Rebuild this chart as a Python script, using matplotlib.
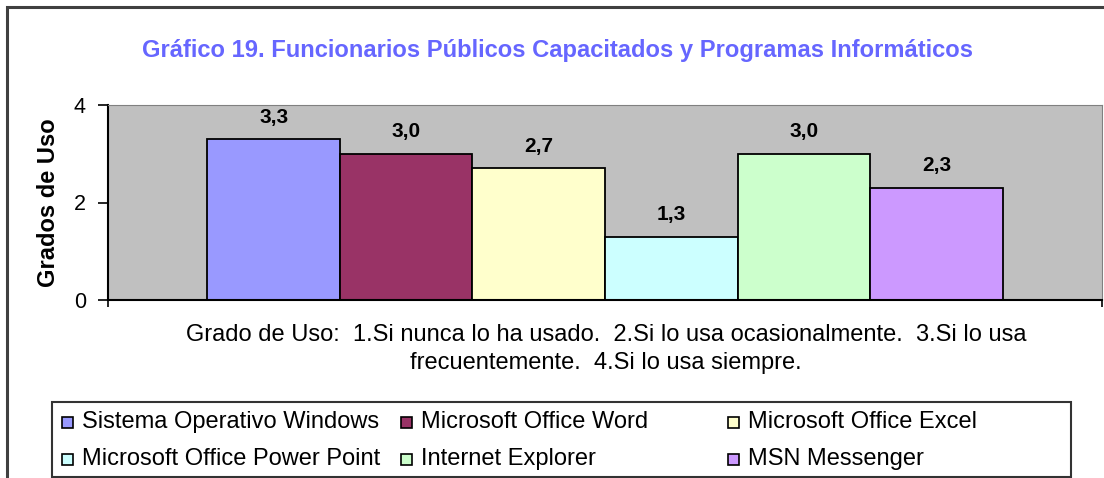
import matplotlib.pyplot as plt
from matplotlib.patches import Rectangle

# data
programas = ['Sistema Operativo Windows', 'Microsoft Office Word', 'Microsoft Office Excel',
             'Microsoft Office Power Point', 'Internet Explorer', 'MSN Messenger']
grados = [3.3, 3.0, 2.7, 1.3, 3.0, 2.3]
colores = ['#9999FF', '#993366', '#FFFFCC', '#CCFFFF', '#CCFFCC', '#CC99FF']
y_ticks = [0, 2, 4]

W, H = 1104, 478


def fx(x):
    return x / W


def fy(y):
    return 1 - y / H


fig = plt.figure(figsize=(W / 100, H / 100), dpi=100)

# outer frame of the chart object (right and bottom run off the picture)
fig.add_artist(Rectangle((fx(6.5), fy(900)), 2, fy(7) - fy(900),
                         transform=fig.transFigure, fill=False, edgecolor='#404040', linewidth=2.2))

ax = fig.add_axes([fx(108), fy(300), fx(1102) - fx(108), fy(105) - fy(300)])
ax.set_facecolor('#C0C0C0')

x = list(range(len(grados)))
bars = ax.bar(x, grados, width=1.0, color=colores, edgecolor='black', linewidth=1.3)

for xi, v in zip(x, grados):
    ax.annotate(f'{v:.1f}'.replace('.', ','), (xi, v), xytext=(0, 9), textcoords='offset points',
                ha='center', va='bottom', fontsize=15, fontweight='bold', family='Liberation Sans')

ax.set_xlim(-1.25, 6.25)
ax.set_ylim(0, 4)
ax.set_yticks(y_ticks)
ax.set_yticklabels([str(t) for t in y_ticks], family='Liberation Sans', fontsize=15.5)
ax.set_xticks([-1.25, 6.25])
ax.set_xticklabels(['', ''])
ax.tick_params(axis='y', direction='out', length=7, width=1.2, pad=9)
ax.tick_params(axis='x', direction='out', length=5, width=1.2)
ax.spines['left'].set_linewidth(1.5)
ax.spines['bottom'].set_linewidth(1.5)
ax.spines['top'].set_color('#808080')
ax.spines['right'].set_color('#808080')
ax.set_ylabel('Grados de Uso', family='Liberation Sans', fontsize=17, fontweight='bold', labelpad=10)

fig.text(fx(558), fy(50), 'Gráfico 19. Funcionarios Públicos Capacitados y Programas Informáticos',
         ha='center', va='center', color='#6666FF', fontsize=17.1, fontweight='bold',
         family='Liberation Sans')

fig.text(fx(606), fy(349), 'Grado de Uso:  1.Si nunca lo ha usado.  2.Si lo usa ocasionalmente.  3.Si lo usa\n'
         'frecuentemente.  4.Si lo usa siempre.',
         ha='center', va='center', fontsize=17, family='Liberation Sans', linespacing=1.3)

# legend box
fig.add_artist(Rectangle((fx(52), fy(477)), fx(1071) - fx(52), fy(402) - fy(477),
                         transform=fig.transFigure, fill=False, edgecolor='#333333', linewidth=1.5))
col_x = [82, 421, 748]
row_y = [422, 459]
for i, (lab, c) in enumerate(zip(programas, colores)):
    cx = col_x[i % 3]
    ry = row_y[i // 3]
    fig.add_artist(Rectangle((fx(cx - 20), fy(ry + 5.5)), fx(11), 11 / H,
                             transform=fig.transFigure, facecolor=c, edgecolor='black', linewidth=1.2))
    fig.text(fx(cx), fy(ry), lab, ha='left', va='center', fontsize=17, family='Liberation Sans')

fig.savefig('out.png', dpi=100)
